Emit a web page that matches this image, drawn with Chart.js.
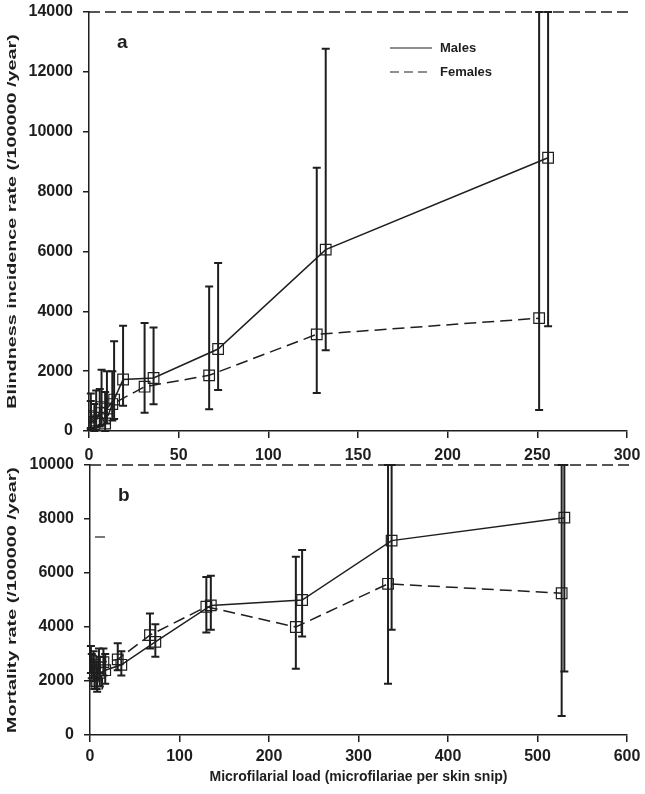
<!DOCTYPE html>
<html><head><meta charset="utf-8">
<script src="https://cdn.jsdelivr.net/npm/chart.js@4.4.1/dist/chart.umd.min.js"></script>
<style>
html,body{margin:0;padding:0;background:#fff;width:645px;height:794px;overflow:hidden}
#wa{position:absolute;left:0;top:0;width:645px;height:470px}
#wb{position:absolute;left:0;top:455px;width:645px;height:339px}
</style></head><body>
<div id="wa"><canvas id="ca"></canvas></div>
<div id="wb"><canvas id="cb"></canvas></div>
<script>
// ---- Panel a: blindness incidence ----
const aMaleX  = [1, 4, 7, 10, 14, 19, 36, 72, 132, 256];
const aMaleY  = [500, 350, 800, 750, 1050, 1720, 1770, 2740, 6060, 9130];
const aMaleLo = [100, 50, 200, 250, 400, 840, 890, 1370, 2700, 3500];
const aMaleHi = [1250, 1350, 2050, 2000, 3000, 3520, 3460, 5610, 12770, 14000];
const aFemX   = [1, 3, 6, 9, 13, 31, 67, 127, 251];
const aFemY   = [450, 300, 600, 250, 900, 1480, 1860, 3230, 3770];
const aFemLo  = [50, 0, 150, 0, 350, 610, 730, 1270, 700];
const aFemHi  = [1000, 900, 1400, 1300, 2000, 3610, 4830, 8800, 14000];
const aXTicks = [0, 50, 100, 150, 200, 250, 300];
const aYTicks = [0, 2000, 4000, 6000, 8000, 10000, 12000, 14000];

// ---- Panel b: mortality ----
const bMaleX  = [2, 5, 8, 11, 17, 35, 73, 135, 237, 337, 530];
const bMaleY  = [2500, 2200, 1900, 2300, 2400, 2600, 3450, 4800, 5000, 7200, 8050];
const bMaleLo = [2100, 1700, 1600, 1800, 1900, 2200, 2900, 3900, 3650, 3900, 2350];
const bMaleHi = [3000, 2800, 2500, 2900, 3000, 3100, 4100, 5900, 6850, 10000, 10000];
const bFemX   = [1, 4, 7, 10, 15, 31, 67, 130, 230, 333, 527];
const bFemY   = [2750, 2400, 2000, 2700, 2700, 2800, 3700, 4750, 4000, 5600, 5250];
const bFemLo  = [2300, 2000, 1700, 2300, 2200, 2400, 3200, 3800, 2450, 1900, 700];
const bFemHi  = [3300, 3100, 2700, 3200, 3200, 3400, 4500, 5850, 6600, 10000, 10000];
const bXTicks = [0, 100, 200, 300, 400, 500, 600];
const bYTicks = [0, 2000, 4000, 6000, 8000, 10000];

const FONT = "'Liberation Sans', Arial, sans-serif";
const INK = '#1e1e1e';
Chart.defaults.font.family = FONT;
Chart.defaults.color = INK;

function pts(xs, ys){ return xs.map((x,i)=>({x:x, y:ys[i]})); }

const errPlugin = {
  id:'err',
  beforeDatasetsDraw(chart){
    const {ctx, scales:{x,y}} = chart;
    ctx.save();
    ctx.strokeStyle = INK; ctx.lineWidth = 2;
    chart.data.datasets.forEach(ds=>{
      ds.data.forEach((p,i)=>{
        const px = x.getPixelForValue(p.x);
        const y1 = y.getPixelForValue(ds.lo[i]), y2 = y.getPixelForValue(ds.hi[i]);
        ctx.beginPath();
        ctx.moveTo(px,y1); ctx.lineTo(px,y2);
        ctx.moveTo(px-4,y1); ctx.lineTo(px+4,y1);
        ctx.moveTo(px-4,y2); ctx.lineTo(px+4,y2);
        ctx.stroke();
      });
    });
    ctx.restore();
  }
};

const decoPlugin = {
  id:'deco',
  afterDraw(chart, args, opts){
    const {ctx, chartArea:ca, scales:{y}} = chart;
    ctx.save();
    // dashed line along the top
    ctx.strokeStyle = INK; ctx.lineWidth = 1.5; ctx.setLineDash([11,5]);
    const ty = y.getPixelForValue(y.max);
    ctx.beginPath(); ctx.moveTo(ca.left, ty); ctx.lineTo(ca.right+6, ty); ctx.stroke();
    ctx.setLineDash([]);
    // y axis title (stretched along its length like the reference)
    ctx.save();
    ctx.fillStyle = INK; ctx.font = "bold 13px " + FONT;
    ctx.textAlign = 'center'; ctx.textBaseline = 'middle';
    ctx.translate(12, (ca.top + ca.bottom)/2);
    ctx.rotate(-Math.PI/2);
    ctx.scale(opts.stretch, 1);
    ctx.fillText(opts.yTitle, 0, 0);
    ctx.restore();
    // panel letter
    ctx.fillStyle = INK; ctx.font = "bold 19px " + FONT; ctx.textBaseline = 'middle';
    ctx.fillText(opts.letter, ca.left + 28, ca.top + 31);
    if (opts.legend){
      ctx.font = "bold 13px " + FONT; ctx.lineWidth = 1.2;
      const lx = ca.left + 301, ly = ca.top + 36;
      ctx.beginPath(); ctx.moveTo(lx, ly); ctx.lineTo(lx+42, ly); ctx.stroke();
      ctx.fillText('Males', lx+50, ly);
      ctx.setLineDash([9,5]);
      ctx.beginPath(); ctx.moveTo(lx, ly+24); ctx.lineTo(lx+42, ly+24); ctx.stroke();
      ctx.setLineDash([]);
      ctx.fillText('Females', lx+50, ly+24);
    } else {
      ctx.lineWidth = 1.2;
      ctx.beginPath(); ctx.moveTo(ca.left+5, ca.top+72); ctx.lineTo(ca.left+15, ca.top+72); ctx.stroke();
    }
    ctx.restore();
  }
};

function makeChart(id, cfg){
  const tickFont = {size:16, weight:'bold', family:FONT};
  const titleFont = {size:14, weight:'bold', family:FONT};
  const ds = (label, xs, ys, lo, hi, dash) => ({
    label, data: pts(xs, ys), lo, hi, showLine:true,
    borderColor: INK, borderWidth: 1.5, borderDash: dash,
    pointStyle:'rect', pointRadius: 7.5, pointBorderWidth: 1.2,
    pointBorderColor: INK, pointBackgroundColor:'rgba(0,0,0,0)', tension:0
  });
  return new Chart(document.getElementById(id), {
    type:'scatter',
    data:{datasets:[
      ds('Males', cfg.mx, cfg.my, cfg.mlo, cfg.mhi, []),
      ds('Females', cfg.fx, cfg.fy, cfg.flo, cfg.fhi, [12,6])
    ]},
    options:{
      responsive:true, maintainAspectRatio:false, animation:false,
      layout:{padding:cfg.pad},
      plugins:{legend:{display:false}, tooltip:{enabled:false},
        deco:{letter:cfg.letter, legend:cfg.legend, yTitle:cfg.yTitle, stretch:1.52}},
      scales:{
        x:{type:'linear', min:cfg.xt[0], max:cfg.xt[cfg.xt.length-1],
           afterBuildTicks(s){ s.ticks = cfg.xt.map(v=>({value:v})); },
           ticks:{font:tickFont, color:INK, padding:cfg.xpad, maxRotation:0, callback:v=>String(v)},
           grid:{drawOnChartArea:false, tickLength:7, color:INK, lineWidth:1.5},
           border:{color:INK, width:1.5},
           title:{display:!!cfg.xTitle, text:cfg.xTitle, font:titleFont, color:INK, padding:{top:2, bottom:0}},
           afterFit(s){ s.height = cfg.xh; s.paddingLeft = 0; s.paddingRight = 0; }},
        y:{min:cfg.yt[0], max:cfg.yt[cfg.yt.length-1],
           afterBuildTicks(s){ s.ticks = cfg.yt.map(v=>({value:v})); },
           ticks:{font:tickFont, color:INK, padding:10, callback:v=>String(v)},
           grid:{drawOnChartArea:false, tickLength:6, color:INK, lineWidth:1.5},
           border:{color:INK, width:1.5},
           title:{display:false},
           afterFit(s){ s.width = cfg.yw; s.paddingTop = 0; s.paddingBottom = 0; }}
      }
    },
    plugins:[errPlugin, decoPlugin]
  });
}

makeChart('ca', {mx:aMaleX, my:aMaleY, mlo:aMaleLo, mhi:aMaleHi,
  fx:aFemX, fy:aFemY, flo:aFemLo, fhi:aFemHi, xt:aXTicks, yt:aYTicks,
  letter:'a', legend:true, yTitle:'Blindness incidence rate (/100000 /year)', xTitle:'',
  pad:{top:12, right:18, left:0, bottom:0}, xh:39, yw:89, xpad:8});
makeChart('cb', {mx:bMaleX, my:bMaleY, mlo:bMaleLo, mhi:bMaleHi,
  fx:bFemX, fy:bFemY, flo:bFemLo, fhi:bFemHi, xt:bXTicks, yt:bYTicks,
  letter:'b', legend:false, yTitle:'Mortality rate (/100000 /year)',
  xTitle:'Microfilarial load (microfilariae per skin snip)',
  pad:{top:10, right:18, left:0, bottom:8}, xh:51, yw:90, xpad:5});
</script>
</body></html>
